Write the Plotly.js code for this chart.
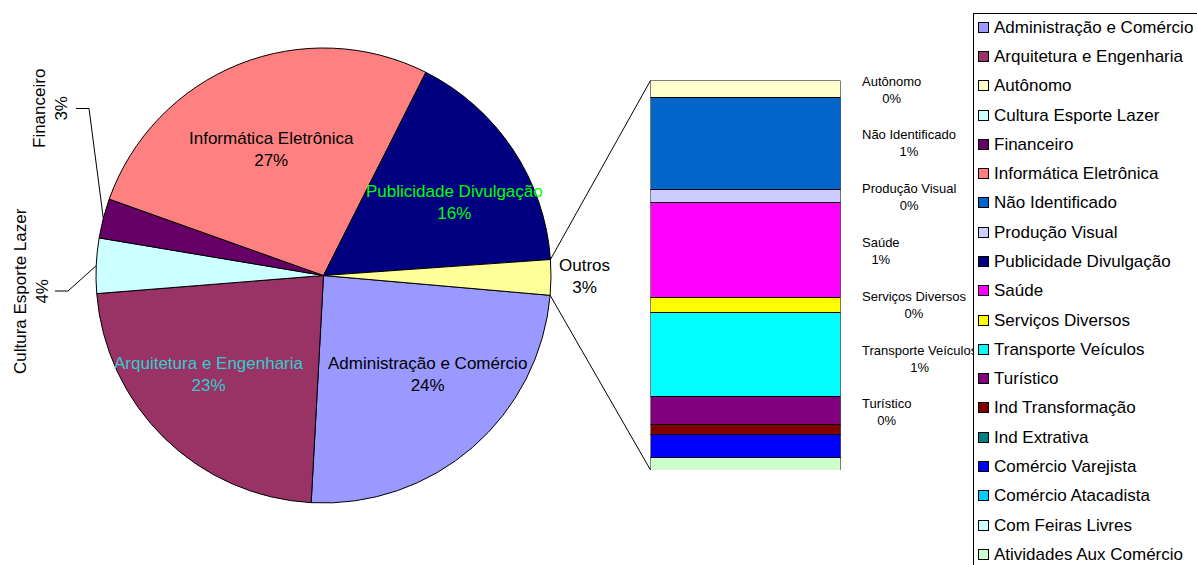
<!DOCTYPE html>
<html><head><meta charset="utf-8">
<script src="https://cdn.plot.ly/plotly-3.0.1.min.js"></script>
<style>html,body{margin:0;padding:0;background:#fff;}#chart{width:1197px;height:565px;}</style>
</head><body><div id="chart"></div>
<script>
// ---------- data ----------
const pieLabels = ['Administração e Comércio','Arquitetura e Engenharia','Cultura Esporte Lazer','Financeiro','Informática Eletrônica','Publicidade Divulgação'];
const pieValues = [24.4, 22.8, 3.9, 2.8, 26.9, 16.4];
const pieColors = ['#9999FF','#993366','#CCFFFF','#660066','#FF8080','#000080'];
const otherLabel = 'Outros';
const otherColor = '#FFFF99';
const barLabels = ['Autônomo','Não Identificado','Produção Visual','Saúde','Serviços Diversos','Transporte Veículos','Turístico','Ind Transformação','Ind Extrativa','Comércio Varejista','Comércio Atacadista','Com Feiras Livres','Atividades Aux Comércio'];
const barValues = [0.11, 0.59, 0.08, 0.61, 0.10, 0.54, 0.18, 0.06, 0, 0.15, 0, 0, 0.08];
const barColors = ['#FFFFCC','#0066CC','#CCCCFF','#FF00FF','#FFFF00','#00FFFF','#800080','#800000','#008080','#0000FF','#00CCFF','#CCFFFF','#CCFFCC'];
const legendOrder = ['Administração e Comércio','Arquitetura e Engenharia','Autônomo','Cultura Esporte Lazer','Financeiro','Informática Eletrônica','Não Identificado','Produção Visual','Publicidade Divulgação','Saúde','Serviços Diversos','Transporte Veículos','Turístico','Ind Transformação','Ind Extrativa','Comércio Varejista','Comércio Atacadista','Com Feiras Livres','Atividades Aux Comércio'];

// ---------- layout constants (pixels) ----------
const W = 1197, H = 565;
const FONT = 'Liberation Sans, Arial, sans-serif';
const px = x => x / W;
const py = y => 1 - y / H;
const pieCx = 323.5, pieCy = 275.5, pieR = 227.5;
const pieRotation = 95;
const barLeft = 650.5, barRight = 840.5, barTop = 80.5, barBottom = 470;

const otherValue = barValues.reduce((a, b) => a + b, 0);
const allPieLabels = pieLabels.concat([otherLabel]);
const allPieValues = pieValues.concat([otherValue]);
const allPieColors = pieColors.concat([otherColor]);
const total = allPieValues.reduce((a, b) => a + b, 0);
const pct = v => Math.round(v / total * 100) + '%';

const colorOf = {};
allPieLabels.forEach((l, i) => colorOf[l] = allPieColors[i]);
barLabels.forEach((l, i) => colorOf[l] = barColors[i]);

const traces = [{
  type: 'pie',
  labels: allPieLabels,
  values: allPieValues,
  sort: false,
  direction: 'clockwise',
  rotation: pieRotation,
  textinfo: 'none',
  hoverinfo: 'label+percent',
  showlegend: false,
  marker: {colors: allPieColors, line: {color: '#000000', width: 1}},
  domain: {x: [px(pieCx - pieR), px(pieCx + pieR)], y: [py(pieCy + pieR), py(pieCy - pieR)]}
}];
barLabels.forEach((l, i) => {
  traces.push({
    type: 'bar', name: l, x: [0], y: [barValues[i]], width: 1,
    xaxis: 'x', yaxis: 'y', showlegend: false,
    marker: {color: barColors[i], line: {color: '#000000', width: 1}},
    hoverinfo: 'name'
  });
});

// angles (degrees clockwise from 12 o'clock)
function sliceAngles(idx) {
  let before = 0;
  for (let i = 0; i < idx; i++) before += allPieValues[i];
  const a0 = pieRotation + 360 * before / total;
  const a1 = a0 + 360 * allPieValues[idx] / total;
  return [a0, a1];
}
function edge(angDeg, r) {
  const a = angDeg * Math.PI / 180;
  return [pieCx + r * Math.sin(a), pieCy - r * Math.cos(a)];
}
function line(x0, y0, x1, y1) {
  return {type: 'line', xref: 'paper', yref: 'paper', x0: px(x0), y0: py(y0), x1: px(x1), y1: py(y1),
          line: {color: '#000000', width: 1}};
}

const shapes = [];
// connector lines from "Outros" slice to the bar
const oa = sliceAngles(allPieLabels.length - 1);
const pTop = edge(oa[0], pieR), pBot = edge(oa[1], pieR);
shapes.push(line(pTop[0], pTop[1], barLeft, barTop));
shapes.push(line(pBot[0], pBot[1], barLeft, barBottom));

// pie labels
const annotations = [];
const pieText = [
  {label: 'Informática Eletrônica', x: 271.7, y: 150, color: '#000000'},
  {label: 'Publicidade Divulgação', x: 454.3, y: 202, color: '#00FF00'},
  {label: 'Arquitetura e Engenharia', x: 209, y: 374.5, color: '#33CCCC'},
  {label: 'Administração e Comércio', x: 427.3, y: 374.5, color: '#000000'},
  {label: 'Outros', x: 584, y: 276.7, color: '#000000'},
  {label: 'Financeiro', x: 50.5, y: 108.5, color: '#000000', angle: -90, leader: [[76, 108.5], [89, 108.5]]},
  {label: 'Cultura Esporte Lazer', x: 31, y: 291, color: '#000000', angle: -90, leader: [[55, 291], [68, 291]]}
];
pieText.forEach(t => {
  const idx = allPieLabels.indexOf(t.label);
  annotations.push({
    xref: 'paper', yref: 'paper', x: px(t.x), y: py(t.y), xanchor: 'center', yanchor: 'middle',
    showarrow: false, text: t.label + '<br>' + pct(allPieValues[idx]), align: 'center',
    textangle: t.angle || 0, font: {family: FONT, size: 17, color: t.color}
  });
  if (t.leader) {
    const ang = sliceAngles(idx);
    const e = edge((ang[0] + ang[1]) / 2, pieR);
    shapes.push(line(t.leader[0][0], t.leader[0][1], t.leader[1][0], t.leader[1][1]));
    shapes.push(line(t.leader[1][0], t.leader[1][1], e[0], e[1]));
  }
});

// bar labels (first seven categories, evenly spaced as in the original)
const barLabelX = 860, barLabelY0 = 89.5, barLabelStep = 53.8, barLabelCount = 7;
for (let i = 0; i < barLabelCount; i++) {
  annotations.push({
    xref: 'paper', yref: 'paper', x: px(barLabelX), y: py(barLabelY0 + barLabelStep * i),
    xanchor: 'left', yanchor: 'middle', showarrow: false, align: 'center',
    text: barLabels[i] + '<br>' + pct(barValues[i]),
    font: {family: FONT, size: 13, color: '#000000'}
  });
}

// legend box (drawn over the labels, extends beyond the page like the original)
const legLeft = 972.5, legTop = 12.5, legY0 = 27.3, legStep = 29.28;
annotations.push({
  xref: 'paper', yref: 'paper', x: px(legLeft), y: py(legTop), xanchor: 'left', yanchor: 'top',
  showarrow: false, text: ' ', width: 260, height: 580, bgcolor: '#FFFFFF',
  bordercolor: '#000000', borderwidth: 1, borderpad: 0, font: {size: 2}
});
legendOrder.forEach((l, i) => {
  const yc = legY0 + legStep * i;
  annotations.push({
    xref: 'paper', yref: 'paper', x: px(983.5), y: py(yc), xanchor: 'center', yanchor: 'middle',
    showarrow: false, text: ' ', width: 9, height: 9, bgcolor: colorOf[l],
    bordercolor: '#000000', borderwidth: 1, borderpad: 0, font: {size: 2}
  });
  annotations.push({
    xref: 'paper', yref: 'paper', x: px(991.5), y: py(yc), xanchor: 'left', yanchor: 'middle',
    showarrow: false, text: l, font: {family: FONT, size: 17, color: '#000000'}
  });
});

const layout = {
  width: W, height: H,
  margin: {l: 0, r: 0, t: 0, b: 0, pad: 0, autoexpand: false},
  paper_bgcolor: '#FFFFFF', plot_bgcolor: 'rgba(0,0,0,0)',
  showlegend: false, barmode: 'stack',
  font: {family: FONT, color: '#000000'},
  xaxis: {domain: [px(barLeft), px(barRight)], range: [-0.5, 0.5], visible: false, fixedrange: true},
  yaxis: {domain: [py(barBottom), py(barTop)], range: [otherValue, 0], visible: false, fixedrange: true},
  shapes: shapes,
  annotations: annotations
};
Plotly.newPlot('chart', traces, layout, {displayModeBar: false, staticPlot: true});
</script>
</body></html>
